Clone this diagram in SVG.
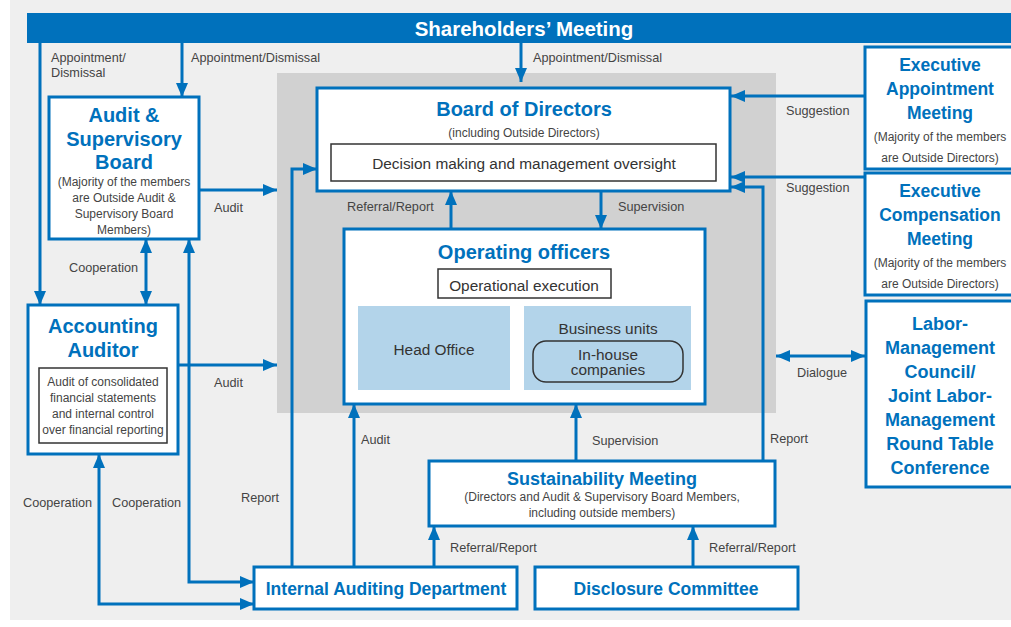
<svg xmlns="http://www.w3.org/2000/svg" width="1011" height="627" viewBox="0 0 1011 627">
<defs>
<marker id="arr" viewBox="0 0 14 12" refX="14" refY="6" markerWidth="14" markerHeight="12" markerUnits="userSpaceOnUse" orient="auto-start-reverse">
<path d="M0,0 L14,6 L0,12 z" fill="#0071bc"/>
</marker>
<style>
text{font-family:"Liberation Sans",Arial,sans-serif}
.box{fill:#fff;stroke:#0071bc;stroke-width:3}
.inner{fill:#fff;stroke:#333;stroke-width:1.5}
.blue{fill:#b3d4ea}
.t{fill:#0071bc;font-weight:bold;text-anchor:middle}
.s{fill:#444;font-size:12px;text-anchor:middle}
.b{fill:#333;font-size:15.4px;text-anchor:middle}
.lbl{fill:#444;font-size:12.7px}
.c{fill:none;stroke:#0071bc;stroke-width:3}
</style>
</defs>
<rect x="10" y="0" width="1001" height="620" fill="#efefef"/>
<rect x="277" y="73" width="499" height="340" fill="#d1d1d1"/>

<g id="shareholders">
<rect x="27" y="13" width="984" height="30" fill="#0071bc"/>
<text x="524" y="36" text-anchor="middle" fill="#fff" font-size="20.5" font-weight="bold">Shareholders’ Meeting</text>
</g>

<g id="board">
<rect class="box" x="317" y="88" width="413" height="103"/>
<text class="t" x="524" y="116" font-size="20">Board of Directors</text>
<text class="s" x="524" y="137" font-size="12.5">(including Outside Directors)</text>
<rect class="inner" x="331" y="144" width="385" height="37"/>
<text class="b" x="524" y="169">Decision making and management oversight</text>
</g>

<g id="operating">
<rect class="box" x="344" y="229" width="361" height="175"/>
<text class="t" x="524" y="259" font-size="20">Operating officers</text>
<rect class="inner" x="438" y="269" width="173" height="29"/>
<text class="b" x="524" y="291">Operational execution</text>
<rect class="blue" x="358" y="306" width="152" height="84"/>
<text class="b" x="434" y="355">Head Office</text>
<rect class="blue" x="524" y="306" width="167" height="84"/>
<text class="b" x="608" y="334">Business units</text>
<rect x="533" y="341" width="150" height="41" rx="13" fill="none" stroke="#333" stroke-width="1.5"/>
<text class="b" x="608" y="360">In-house</text>
<text class="b" x="608" y="375">companies</text>
</g>

<g id="asb">
<rect class="box" x="49" y="97" width="150" height="142"/>
<text class="t" x="124" y="122" font-size="20">Audit &amp;</text>
<text class="t" x="124" y="146" font-size="20">Supervisory</text>
<text class="t" x="124" y="169" font-size="20">Board</text>
<text class="s" x="124" y="186">(Majority of the members</text>
<text class="s" x="124" y="202">are Outside Audit &amp;</text>
<text class="s" x="124" y="218">Supervisory Board</text>
<text class="s" x="124" y="234">Members)</text>
</g>

<g id="accounting">
<rect class="box" x="28" y="305" width="150" height="149"/>
<text class="t" x="103" y="333" font-size="20">Accounting</text>
<text class="t" x="103" y="357" font-size="20">Auditor</text>
<rect class="inner" x="39" y="368" width="128" height="75"/>
<text class="s" x="103" y="386">Audit of consolidated</text>
<text class="s" x="103" y="402">financial statements</text>
<text class="s" x="103" y="418">and internal control</text>
<text class="s" x="103" y="434">over financial reporting</text>
</g>

<g id="exec-appointment">
<rect class="box" x="865" y="47" width="150" height="122"/>
<text class="t" x="940" y="71" font-size="17.5">Executive</text>
<text class="t" x="940" y="95" font-size="17.5">Appointment</text>
<text class="t" x="940" y="119" font-size="17.5">Meeting</text>
<text class="s" x="940" y="141">(Majority of the members</text>
<text class="s" x="940" y="162">are Outside Directors)</text>
</g>

<g id="exec-compensation">
<rect class="box" x="865" y="173" width="150" height="122"/>
<text class="t" x="940" y="197" font-size="17.5">Executive</text>
<text class="t" x="940" y="221" font-size="17.5">Compensation</text>
<text class="t" x="940" y="245" font-size="17.5">Meeting</text>
<text class="s" x="940" y="267">(Majority of the members</text>
<text class="s" x="940" y="288">are Outside Directors)</text>
</g>

<g id="labor">
<rect class="box" x="866" y="301" width="150" height="186"/>
<text class="t" x="940" y="330" font-size="18">Labor-</text>
<text class="t" x="940" y="354" font-size="18">Management</text>
<text class="t" x="940" y="378" font-size="18">Council/</text>
<text class="t" x="940" y="402" font-size="18">Joint Labor-</text>
<text class="t" x="940" y="426" font-size="18">Management</text>
<text class="t" x="940" y="450" font-size="18">Round Table</text>
<text class="t" x="940" y="474" font-size="18">Conference</text>
</g>

<g id="sustainability">
<rect class="box" x="429" y="461" width="346" height="65"/>
<text class="t" x="602" y="485" font-size="18">Sustainability Meeting</text>
<text class="s" x="602" y="501" font-size="12.2">(Directors and Audit &amp; Supervisory Board Members,</text>
<text class="s" x="602" y="517" font-size="12.2">including outside members)</text>
</g>

<g id="internal-auditing">
<rect class="box" x="254" y="567" width="263" height="42"/>
<text class="t" x="386" y="595" font-size="17.5">Internal Auditing Department</text>
</g>

<g id="disclosure">
<rect class="box" x="535" y="567" width="263" height="42"/>
<text class="t" x="666" y="595" font-size="17.5">Disclosure Committee</text>
</g>

<g id="connectors">
<path class="c" d="M40,43 V305" marker-end="url(#arr)"/>
<path class="c" d="M182,43 V97" marker-end="url(#arr)"/>
<path class="c" d="M521,43 V82" marker-end="url(#arr)"/>
<path class="c" d="M865,96 H731" marker-end="url(#arr)"/>
<path class="c" d="M865,177 H731" marker-end="url(#arr)"/>
<path class="c" d="M763,461 V187 H731" marker-end="url(#arr)"/>
<path class="c" d="M199,190 H277" marker-end="url(#arr)"/>
<path class="c" d="M178,365 H277" marker-end="url(#arr)"/>
<path class="c" d="M146,239 V305" marker-start="url(#arr)" marker-end="url(#arr)"/>
<path class="c" d="M189,239 V582 H254" marker-start="url(#arr)" marker-end="url(#arr)"/>
<path class="c" d="M99,454 V604 H254" marker-start="url(#arr)" marker-end="url(#arr)"/>
<path class="c" d="M292,567 V169 H317" marker-end="url(#arr)"/>
<path class="c" d="M354,567 V404" marker-end="url(#arr)"/>
<path class="c" d="M434,567 V526" marker-end="url(#arr)"/>
<path class="c" d="M693,567 V526" marker-end="url(#arr)"/>
<path class="c" d="M576,461 V404" marker-end="url(#arr)"/>
<path class="c" d="M451,229 V191" marker-end="url(#arr)"/>
<path class="c" d="M601,191 V229" marker-end="url(#arr)"/>
<path class="c" d="M776,356 H865" marker-start="url(#arr)" marker-end="url(#arr)"/>
<text class="lbl" x="51" y="62">Appointment/</text>
<text class="lbl" x="51" y="77">Dismissal</text>
<text class="lbl" x="191" y="62">Appointment/Dismissal</text>
<text class="lbl" x="533" y="62">Appointment/Dismissal</text>
<text class="lbl" x="786" y="115">Suggestion</text>
<text class="lbl" x="786" y="192">Suggestion</text>
<text class="lbl" x="214" y="212">Audit</text>
<text class="lbl" x="214" y="387">Audit</text>
<text class="lbl" x="69" y="272">Cooperation</text>
<text class="lbl" x="347" y="211">Referral/Report</text>
<text class="lbl" x="618" y="211">Supervision</text>
<text class="lbl" x="23" y="507">Cooperation</text>
<text class="lbl" x="112" y="507">Cooperation</text>
<text class="lbl" x="241" y="502">Report</text>
<text class="lbl" x="361" y="444">Audit</text>
<text class="lbl" x="592" y="445">Supervision</text>
<text class="lbl" x="770" y="443">Report</text>
<text class="lbl" x="797" y="377">Dialogue</text>
<text class="lbl" x="450" y="552">Referral/Report</text>
<text class="lbl" x="709" y="552">Referral/Report</text>
</g>
</svg>
